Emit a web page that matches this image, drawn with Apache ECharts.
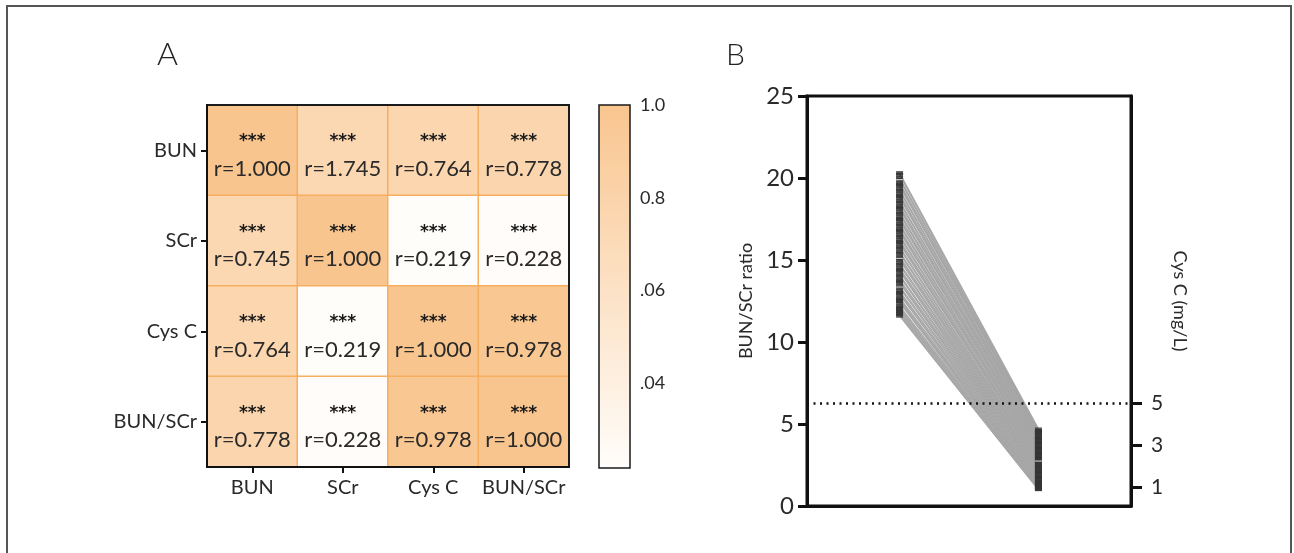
<!DOCTYPE html>
<html><head><meta charset="utf-8">
<script src="https://cdn.jsdelivr.net/npm/echarts@6/dist/echarts.min.js"></script>
<style>html,body{margin:0;padding:0;background:#fff}#c{width:1294px;height:553px}</style>
</head><body><div id="c"></div>
<script>
// ---------- Panel A data ----------
const vars = ['BUN', 'SCr', 'Cys C', 'BUN/SCr'];
// correlation values (row = y category, col = x category)
const rowBUN   = [1.000, 0.745, 0.764, 0.778];
const rowSCr   = [0.745, 1.000, 0.219, 0.228];
const rowCysC  = [0.764, 0.219, 1.000, 0.978];
const rowRatio = [0.778, 0.228, 0.978, 1.000];
// printed labels (as in the original figure)
const labBUN   = ['r=1.000', 'r=1.745', 'r=0.764', 'r=0.778'];
const labSCr   = ['r=0.745', 'r=1.000', 'r=0.219', 'r=0.228'];
const labCysC  = ['r=0.764', 'r=0.219', 'r=1.000', 'r=0.978'];
const labRatio = ['r=0.778', 'r=0.228', 'r=0.978', 'r=1.000'];
const sig = '***';
const colorbarTicks = [1.0, 0.8, 0.6, 0.4];
const colorbarTickLabels = ['1.0', '0.8', '.06', '.04'];
const colorMin = 0.219, colorMax = 1.0;

// ---------- Panel B data ----------
const leftVals = [20.3, 20.2, 20.0, 19.9, 19.7, 19.6, 19.5, 19.3, 19.2, 19.0,
  18.9, 18.8, 18.6, 18.5, 18.3, 18.2, 18.1, 17.9, 17.8, 17.6,
  17.5, 17.4, 17.2, 17.1, 16.9, 16.8, 16.7, 16.5, 16.4, 16.2,
  16.1, 16.0, 15.8, 15.7, 15.5, 15.4, 15.2, 15.1, 15.0, 14.8,
  14.7, 14.5, 14.4, 14.3, 14.1, 14.0, 13.8, 13.7, 13.6, 13.4,
  13.3, 13.1, 13.0, 12.9, 12.7, 12.6, 12.5, 12.4, 12.2, 12.1,
  12.0, 11.9, 11.8, 11.7, 11.6];
const rightVals = [4.7, 4.6, 4.6, 4.5, 4.5, 4.4, 4.4, 4.3, 4.2, 4.2,
  4.1, 4.1, 4.0, 3.9, 3.9, 3.8, 3.8, 3.7, 3.6, 3.6,
  3.5, 3.5, 3.4, 3.3, 3.3, 3.2, 3.2, 3.1, 3.0, 3.0,
  2.9, 2.9, 2.8, 2.7, 2.7, 2.6, 2.6, 2.5, 2.4, 2.4,
  2.3, 2.3, 2.2, 2.1, 2.1, 2.0, 2.0, 1.9, 1.8, 1.8,
  1.7, 1.7, 1.6, 1.5, 1.5, 1.4, 1.4, 1.3, 1.3, 1.2,
  1.2, 1.1, 1.1, 1.0, 1.0];
const leftMarks = [19.9, 15.1, 13.35];
const rightMarks = [2.74];
const groupX = [1, 2.5];
const cysThreshold = 5;
const rightTicks = [1, 3, 5];

// ---------- build ----------
const rows = [rowBUN, rowSCr, rowCysC, rowRatio];
const labs = [labBUN, labSCr, labCysC, labRatio];
const heatData = [];
rows.forEach((r, yi) => r.forEach((v, xi) => heatData.push({value: [xi, yi, v], lab: labs[yi][xi]})));
const lineData = leftVals.map((v, i) => ({coords: [[groupX[0], v], [groupX[1], rightVals[i]]]}));

const FONT = 'Lato';
const TXT = '#2a2a2a';
const chart = echarts.init(document.getElementById('c'));
chart.setOption({
  animation: false,
  textStyle: {fontFamily: FONT},
  title: [
    {text: 'A', left: 152, top: 34, textStyle: {fontFamily: FONT, fontSize: 32, fontWeight: 300, color: '#222'}},
    {text: 'B', left: 721, top: 35, textStyle: {fontFamily: FONT, fontSize: 30, fontWeight: 300, color: '#222'}}
  ],
  graphic: [{
    type: 'polyline', silent: true,
    shape: {points: [[7, 560], [7, 6], [1291, 6], [1291, 560]]},
    style: {stroke: '#555', lineWidth: 2, fill: null}
  }],
  grid: [
    {left: 207, top: 105, width: 362, height: 362, show: true, borderColor: '#1a1a1a', borderWidth: 2, backgroundColor: 'transparent', z: 5},
    {left: 807, top: 96, width: 324, height: 410, show: true, borderColor: '#111', borderWidth: 3, backgroundColor: 'transparent'},
    {left: 599, top: 105, width: 31, height: 363, show: true, borderColor: '#1a1a1a', borderWidth: 1.5, backgroundColor: 'transparent', z: 5}
  ],
  xAxis: [
    {type: 'category', gridIndex: 0, data: vars, z: 6,
      axisLine: {show: true, lineStyle: {color: '#111', width: 2}},
      axisTick: {show: true, interval: 0, alignWithLabel: true, length: 6, lineStyle: {color: '#111', width: 2}},
      axisLabel: {show: true, interval: 0, fontSize: 20, color: TXT, margin: 11, fontFamily: FONT}},
    {type: 'value', gridIndex: 1, min: 0, max: 3.5,
      axisLine: {show: true, lineStyle: {color: '#111', width: 3}},
      axisTick: {show: false}, axisLabel: {show: false}, splitLine: {show: false}},
    {type: 'value', gridIndex: 2, show: false, min: 0, max: 1}
  ],
  yAxis: [
    {type: 'category', gridIndex: 0, data: vars, inverse: true, z: 6,
      axisLine: {show: true, lineStyle: {color: '#111', width: 2}},
      axisTick: {show: true, interval: 0, alignWithLabel: true, length: 6, lineStyle: {color: '#111', width: 2}},
      axisLabel: {show: true, interval: 0, fontSize: 20, color: TXT, margin: 10, fontFamily: FONT}},
    {type: 'value', gridIndex: 1, min: 0, max: 25, interval: 5,
      name: 'BUN/SCr ratio', nameLocation: 'middle', nameRotate: 90, nameGap: 52,
      nameTextStyle: {fontSize: 18, color: TXT, fontFamily: FONT},
      axisLine: {show: true, lineStyle: {color: '#111', width: 3}},
      axisTick: {show: true, length: 9, lineStyle: {color: '#111', width: 3}},
      axisLabel: {fontSize: 24, color: TXT, margin: 13, fontFamily: FONT},
      splitLine: {show: false}},
    {type: 'value', gridIndex: 1, position: 'right', min: 0.14, max: 19.44,
      name: 'Cys C (mg/L)', nameLocation: 'middle', nameRotate: -90, nameGap: 40,
      nameTextStyle: {fontSize: 18, color: TXT, fontFamily: FONT},
      axisLine: {show: true, lineStyle: {color: '#111', width: 3}},
      axisTick: {show: true, length: 11, customValues: rightTicks, lineStyle: {color: '#111', width: 3}},
      axisLabel: {fontSize: 21, color: TXT, margin: 20, customValues: rightTicks, fontFamily: FONT},
      splitLine: {show: false}},
    {type: 'value', gridIndex: 2, position: 'left', min: 0.217, max: 1.0,
      axisLine: {show: false},
      axisTick: {show: true, inside: true, length: 5, customValues: colorbarTicks.slice(1), lineStyle: {color: '#111', width: 1.5}},
      axisLabel: {show: false}, splitLine: {show: false}},
    {type: 'value', gridIndex: 2, position: 'right', min: 0.217, max: 1.0,
      axisLine: {show: false},
      axisTick: {show: true, inside: true, length: 5, customValues: colorbarTicks.slice(1), lineStyle: {color: '#111', width: 1.5}},
      axisLabel: {show: true, inside: false, margin: 10, fontSize: 18, color: TXT, fontFamily: FONT,
        customValues: colorbarTicks,
        formatter: v => { const i = colorbarTicks.findIndex(t => Math.abs(t - v) < 1e-6); return i >= 0 ? colorbarTickLabels[i] : ''; }},
      splitLine: {show: false}}
  ],
  visualMap: {
    type: 'continuous', seriesIndex: 0, min: colorMin, max: colorMax,
    left: 599, top: 105, itemWidth: 31, itemHeight: 363, padding: 0,
    calculable: false, hoverLink: false, text: null,
    inRange: {color: ['#fffdfa', '#f9c58f']}
  },
  series: [
    {type: 'heatmap', xAxisIndex: 0, yAxisIndex: 0, data: heatData,
      itemStyle: {borderColor: '#f6ae60', borderWidth: 1.5},
      emphasis: {disabled: true},
      label: {show: true, offset: [0, 9.5],
        formatter: p => '{s|' + sig + '}\n{r|' + p.data.lab + '}',
        rich: {
          s: {fontSize: 17, fontWeight: 'bold', lineHeight: 18, color: '#1a1a1a', fontFamily: 'DejaVu Sans'},
          r: {fontSize: 22, lineHeight: 36, color: TXT, fontFamily: FONT}
        }}},
    {type: 'lines', coordinateSystem: 'cartesian2d', xAxisIndex: 1, yAxisIndex: 1, silent: true,
      data: lineData, lineStyle: {color: '#a6a6a6', width: 1.3, opacity: 1}},
    {type: 'scatter', xAxisIndex: 1, yAxisIndex: 1, silent: true, symbol: 'rect', symbolSize: [7, 4],
      itemStyle: {color: '#333'}, data: leftVals.map(v => [groupX[0], v])},
    {type: 'scatter', xAxisIndex: 1, yAxisIndex: 1, silent: true, symbol: 'rect', symbolSize: [7, 3],
      itemStyle: {color: '#333'}, data: rightVals.map(v => [groupX[1], v])},
    {type: 'scatter', xAxisIndex: 1, yAxisIndex: 1, silent: true, symbol: 'rect', symbolSize: [7, 1],
      itemStyle: {color: '#fff'}, data: leftMarks.map(v => [groupX[0], v]).concat(rightMarks.map(v => [groupX[1], v]))},
    {type: 'scatter', xAxisIndex: 1, yAxisIndex: 2, silent: true, symbolSize: 0, data: [[-1, -1]],
      markLine: {silent: true, symbol: ['none', 'none'], label: {show: false},
        lineStyle: {color: '#111', width: 2.5, type: [2, 4.5]},
        data: [{yAxis: cysThreshold}]}}
  ]
});
</script></body></html>
